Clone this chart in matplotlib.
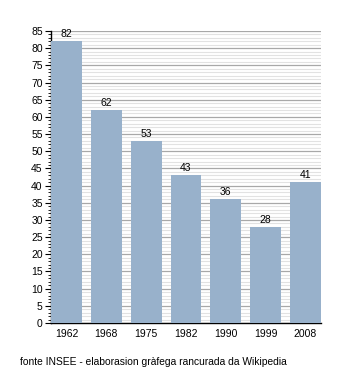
import matplotlib
matplotlib.use("Agg")
import matplotlib.pyplot as plt
from matplotlib.ticker import MultipleLocator

years = ["1962", "1968", "1975", "1982", "1990", "1999", "2008"]
pop = [82, 62, 53, 43, 36, 28, 41]

plt.rcParams["font.family"] = ["Liberation Sans", "DejaVu Sans"]

fig = plt.figure(figsize=(3.5, 3.73), dpi=100)
ax = fig.add_axes([51 / 350, 1 - 323 / 373, 270 / 350, 292 / 373])

x = list(range(len(years)))
w = 0.775
bars = ax.bar(x, pop, width=w, color="#98b1cb", zorder=3)
for xi, v in zip(x, pop):
    ax.text(xi, v + 0.6, str(v), ha="center", va="bottom", fontsize=7.5, zorder=4)

ax.set_xlim(-w / 2, len(years) - 1 + w / 2)
ax.set_ylim(0, 85)
ax.set_xticks(x)
ax.set_xticklabels(years)
ax.yaxis.set_major_locator(MultipleLocator(5))
ax.yaxis.set_minor_locator(MultipleLocator(1))
ax.grid(axis="y", which="major", color="#a8a8a8", lw=0.9, zorder=1)
ax.grid(axis="y", which="minor", color="#e2e2e2", lw=0.8, zorder=0)
ax.tick_params(axis="y", which="major", length=4, width=0.8, labelsize=7.5, pad=2)
ax.tick_params(axis="y", which="minor", length=2, width=0.6)
ax.tick_params(axis="x", length=0, labelsize=7.5, pad=4)
for s in ["top", "right"]:
    ax.spines[s].set_visible(False)
ax.spines["left"].set_linewidth(1)
ax.spines["bottom"].set_linewidth(1)

fig.text(20 / 350, 1 - 362 / 373, "fonte INSEE - elaborasion gràfega rancurada da Wikipedia",
         fontsize=7.4, va="center", ha="left")

fig.savefig("out.png", dpi=100)
